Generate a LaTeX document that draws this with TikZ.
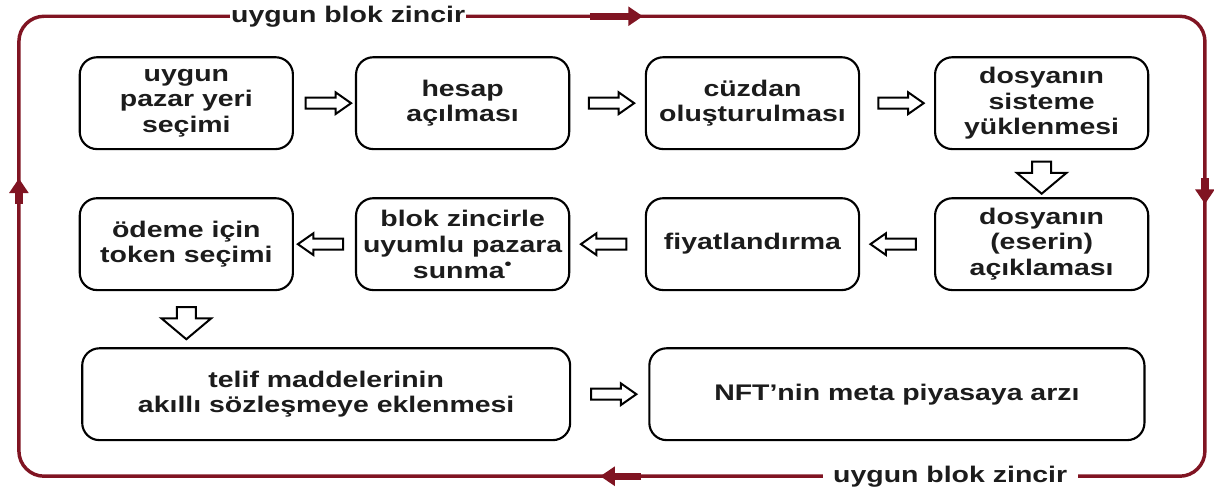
\documentclass[tikz,border=0pt]{standalone}
\usepackage{fontspec}
\setmainfont{Liberation Sans}[FakeStretch=1.26]
\usetikzlibrary{arrows.meta,calc,shapes.arrows}
\definecolor{chainred}{RGB}{128,20,34}
\definecolor{inkgray}{RGB}{28,28,28}

\begin{document}
\begin{tikzpicture}[
  every node/.style={font=\fontsize{17}{19.5}\selectfont\bfseries,text=inkgray},
  stepbox/.style={draw=black,line width=1.6pt,rounded corners=13pt,
    minimum width=5.64cm,minimum height=2.43cm,align=center,inner sep=2pt},
  fwd/.style={single arrow,draw=black,fill=white,line width=1.5pt,
    minimum height=1.2cm,minimum width=15pt,single arrow head extend=4pt,
    single arrow tip angle=70,inner sep=3.4pt},
  down/.style={single arrow,draw=black,fill=white,line width=1.5pt,rotate=-90,
    minimum height=0.85cm,minimum width=36pt,single arrow head extend=11.6pt,
    single arrow tip angle=100,inner sep=6.4pt},
  frame/.style={draw=chainred,line width=2.6pt,rounded corners=19pt},
  flowtip/.style={chainred,line width=5.5pt,-{Triangle[length=11pt,width=14pt]}},
  chainlabel/.style={fill=white,inner ysep=2pt}
]
\useasboundingbox (0,0) rectangle (32.12,13.02);

% red loop round the steps
\draw[frame] (0.50,0.42) rectangle (31.88,12.59);
\draw[flowtip] (15.61,12.59) -- (17.01,12.59);
\draw[flowtip] (31.88,8.30) -- (31.88,7.62);
\draw[flowtip] (16.96,0.42) -- (15.88,0.42);
\draw[flowtip] (0.50,7.62) -- (0.50,8.30);
\node[chainlabel,inner xsep=1pt] (toplbl) at (9.21,12.59) {uygun blok zincir};
\node[chainlabel,inner xsep=8pt] (botlbl) at (25.14,0.42) {uygun blok zincir};

% steps
\node[stepbox] (b1) at (4.93,10.29) {uygun\\pazar yeri\\seçimi};
\node[stepbox] (b2) at (12.24,10.29) {hesap\\açılması};
\node[stepbox] (b3) at (19.91,10.29) {cüzdan\\oluşturulması};
\node[stepbox] (b4) at (27.56,10.29) {dosyanın\\sisteme\\yüklenmesi};
\node[stepbox] (b8) at (27.56,6.56) {dosyanın\\(eserin)\\açıklaması};
\node[stepbox] (b7) at (19.91,6.56) {fiyatlandırma};
\node[stepbox] (b6) at (12.24,6.56) {blok zincirle\\uyumlu pazara\\sunma\textsuperscript{•}};
\node[stepbox] (b5) at (4.93,6.56) {ödeme için\\token seçimi};
\node[stepbox,minimum width=12.91cm] (b9) at (8.63,2.59) {telif maddelerinin\\akıllı sözleşmeye eklenmesi};
\node[stepbox,minimum width=13.10cm] (b10) at (23.73,2.59) {NFT'nin meta piyasaya arzı};

% hollow arrows
\foreach \a/\b in {b1/b2,b2/b3,b3/b4,b9/b10} {
  \node[fwd] (\a-\b) at ($(\a.east)!.5!(\b.west)$) {};
}
\foreach \a/\b in {b8/b7,b7/b6,b6/b5} {
  \node[fwd,rotate=180] (\a-\b) at ($(\a.west)!.5!(\b.east)$) {};
}
\node[down] (b4-b8) at ($(b4.south)!.5!(b8.north)$) {};
\node[down] (b5-b9) at ($(b5.south)!.5!(b5.south |- b9.north)$) {};
\end{tikzpicture}
\end{document}
